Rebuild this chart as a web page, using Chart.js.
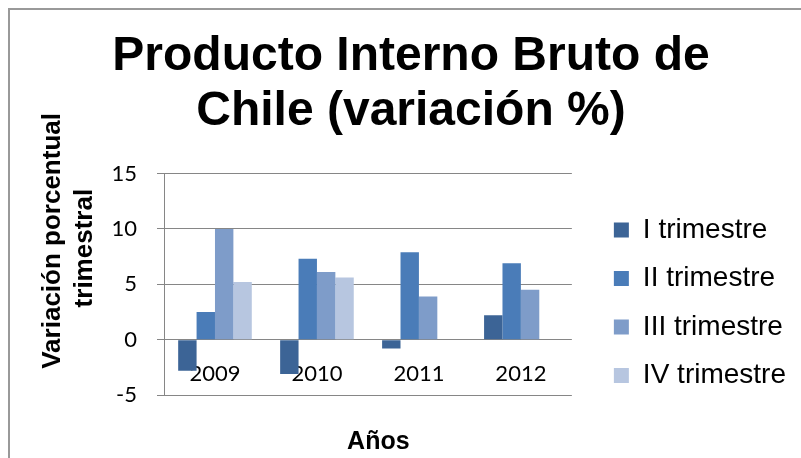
<!DOCTYPE html>
<html>
<head>
<meta charset="utf-8">
<script src="https://cdn.jsdelivr.net/npm/chart.js@4.4.1/dist/chart.umd.min.js"></script>
<style>
  html, body { margin: 0; padding: 0; background: #fff; overflow: hidden; }
  #wrap { position: relative; width: 801px; height: 458px; overflow: hidden; }
  #marco { position: absolute; left: 8px; top: 8px; width: 900px; height: 600px;
           border-left: 2px solid #999; border-top: 2px solid #999; }
  #grafico { position: absolute; left: 0; top: 0; }
</style>
</head>
<body>
<div id="wrap">
  <div id="marco"></div>
  <canvas id="grafico" width="822" height="458"></canvas>
</div>
<script>
var anios = ['2009', '2010', '2011', '2012'];
var trimestre1 = [-2.8, -3.1, -0.8, 2.2];
var trimestre2 = [2.5, 7.3, 7.9, 6.9];
var trimestre3 = [10.0, 6.1, 3.9, 4.5];
var trimestre4 = [5.2, 5.6, null, null];
var ticksY = [-5, 0, 5, 10, 15];

var gris = '#868686';
var arial = "'Liberation Sans', Arial, sans-serif";
var calibri = "Lato, 'Open Sans', sans-serif";

// fija el ancho de un eje (los ocultos solo dejan hueco junto a la leyenda)
function ancho(w) {
  return function (s) { s.width = w; };
}
var ejeVacio = {
  type: 'linear', position: 'right', display: false,
  grid: { display: false, drawTicks: false },
  border: { display: false },
  ticks: { display: false }
};

new Chart(document.getElementById('grafico'), {
  type: 'bar',
  data: {
    labels: anios,
    datasets: [
      { label: 'I trimestre', data: trimestre1, backgroundColor: '#3C6496' },
      { label: 'II trimestre', data: trimestre2, backgroundColor: '#4A7CB8' },
      { label: 'III trimestre', data: trimestre3, backgroundColor: '#7E9CC9' },
      { label: 'IV trimestre', data: trimestre4, backgroundColor: '#B7C6E0' }
    ]
  },
  options: {
    responsive: false,
    animation: false,
    devicePixelRatio: 1,
    layout: { padding: 0 },
    datasets: {
      bar: { categoryPercentage: 0.722, barPercentage: 1, borderWidth: 0 }
    },
    plugins: {
      title: {
        display: true,
        text: ['Producto Interno Bruto de', 'Chile (variación %)'],
        color: '#000',
        font: { family: arial, size: 48, weight: 'bold', lineHeight: 1.146 },
        padding: { top: 29.5, bottom: 34 }
      },
      legend: {
        position: 'right',
        align: 'start',
        fullSize: true,
        title: { display: true, text: '', font: { size: 10, lineHeight: 1 }, padding: { top: 185.5, bottom: 0 } },
        labels: {
          boxWidth: 15,
          boxHeight: 15,
          padding: 20.5,
          color: '#000',
          font: { family: arial, size: 28 }
        }
      },
      tooltip: { enabled: false }
    },
    scales: {
      x: {
        type: 'category',
        position: { y: 0 },
        offset: true,
        grid: { display: false, drawTicks: false },
        border: { display: false },
        ticks: { padding: 21, color: '#000', font: { family: calibri, size: 22 } }
      },
      x2: {
        type: 'category',
        position: 'bottom',
        offset: true,
        grid: { display: false, drawTicks: false },
        border: { display: false },
        ticks: { display: false },
        title: {
          display: true,
          text: '   Años',
          color: '#000',
          font: { family: arial, size: 25, weight: 'bold', lineHeight: 1.2 },
          padding: { top: 32, bottom: 1 }
        }
      },
      y: {
        position: 'left',
        min: -5,
        max: 15,
        afterBuildTicks: function (s) {
          s.ticks = ticksY.map(function (v) { return { value: v }; });
        },
        afterFit: ancho(164),
        grid: { color: gris, lineWidth: 1, tickLength: 7 },
        border: { color: gris, width: 1 },
        ticks: { padding: 20, color: '#000', font: { family: calibri, size: 22 } },
        title: {
          display: true,
          text: ['            Variación porcentual', '          trimestral'],
          color: '#000',
          font: { family: arial, size: 26, weight: 'bold', lineHeight: 1.23 },
          padding: { top: 36.5, bottom: 10.5 }
        }
      },
      hueco: Object.assign({}, ejeVacio, { afterFit: ancho(21.5) }),
      margen: Object.assign({}, ejeVacio, { weight: 2000, afterFit: ancho(26) })
    }
  }
});
</script>
</body>
</html>
